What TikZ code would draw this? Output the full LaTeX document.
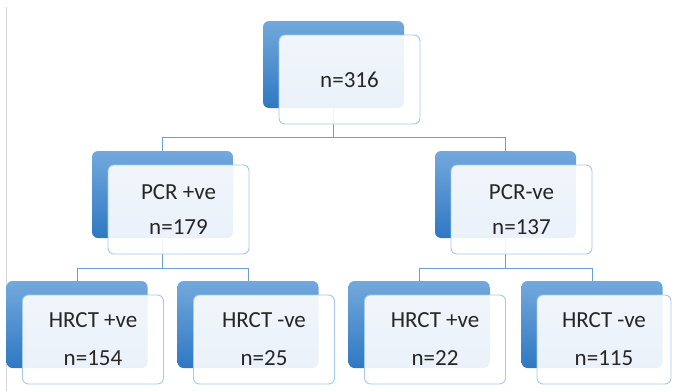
\documentclass[tikz,border=0pt]{standalone}
\usepackage{fontspec}
\setmainfont{Carlito}
\definecolor{backtop}{HTML}{72A9DD}
\definecolor{backbot}{HTML}{2F78C2}
\definecolor{frontline}{HTML}{A6C8EA}
\definecolor{connline}{HTML}{6A9FD6}
\definecolor{edgegray}{HTML}{D4D4D4}
\begin{document}
\begin{tikzpicture}[x=1pt,y=-1pt,
  backbox/.style={rectangle, rounded corners=6pt, minimum width=141pt, minimum height=87pt,
    inner sep=0pt, outer sep=0pt, top color=backtop, bottom color=backbot, draw=none},
  frontbox/.style={rectangle, rounded corners=6pt, minimum width=141pt, minimum height=89pt,
    inner sep=0pt, outer sep=0pt, draw=frontline, line width=0.9pt, fill=white,
    fill opacity=0.9, text opacity=1, text=black!85, align=center},
  midtext/.style={font=\fontsize{23}{35}\selectfont},
  bottext/.style={font=\fontsize{23}{38}\selectfont},
  conn/.style={draw=connline, line width=0.9pt}]
\useasboundingbox (0,0) rectangle (673,391);
\fill[white] (0,0) rectangle (673,391);
\draw[edgegray, line width=0.6pt] (6.5,7) -- (6.5,391);

% back boxes
\node[backbox] (topB) at (333.5,64.5) {};
\node[backbox] (mlB) at (162.5,194.5) {};
\node[backbox] (mrB) at (505.5,194.5) {};
\node[backbox] (b1B) at (77,324.5) {};
\node[backbox] (b2B) at (248,324.5) {};
\node[backbox] (b3B) at (419,324.5) {};
\node[backbox] (b4B) at (592,324.5) {};

% connectors
\coordinate (j1) at (333.5,137);
\coordinate (j2) at (162.5,268);
\coordinate (j3) at (505.5,268);
\draw[conn] (topB.south) -- (j1);
\draw[conn] (j1) -| (mlB.north);
\draw[conn] (j1) -| (mrB.north);
\draw[conn] (mlB.south) -- (j2);
\draw[conn] (j2) -| (b1B.north);
\draw[conn] (j2) -| (b2B.north);
\draw[conn] (mrB.south) -- (j3);
\draw[conn] (j3) -| (b3B.north);
\draw[conn] (j3) -| (b4B.north);

% front boxes
\node[frontbox, midtext] (topF) at (349.5,79.5) {n=316};
\node[frontbox, midtext] (mlF) at (178.5,209.5) {PCR +ve\\n=179};
\node[frontbox, midtext] (mrF) at (521.5,209.5) {PCR-ve\\n=137};
\node[frontbox, bottext] (b1F) at (93,339.5) {HRCT +ve\\n=154};
\node[frontbox, bottext] (b2F) at (264,339.5) {HRCT -ve\\n=25};
\node[frontbox, bottext] (b3F) at (435,339.5) {HRCT +ve\\n=22};
\node[frontbox, bottext, minimum width=134pt] (b4F) at (604,339.5) {HRCT -ve\\n=115};
\end{tikzpicture}
\end{document}
